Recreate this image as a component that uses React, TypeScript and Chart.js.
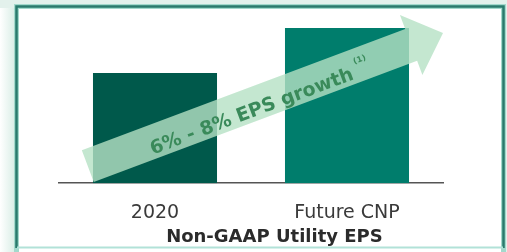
import React, { useEffect, useRef } from "react";
import { Chart, registerables } from "chart.js";

Chart.register(...registerables);

// ---- data ----
const categories = ["2020", "Future CNP"];
const epsValues = [1.1, 1.55];
const barColors = ["#00594b", "#007d6c"];
const chartTitle = "Non-GAAP Utility EPS";
const arrowLabel = "6% - 8% EPS growth";
const arrowNote = "(1)";
const yMax = 1.6;
// arrow runs from (category index, value) to (category index, value)
const arrowFrom = [-0.35, 0.17];
const arrowTo = [1.5, 1.5];

export default function App() {
  const ref = useRef<HTMLCanvasElement>(null);

  useEffect(() => {
    const framePlugin = {
      id: "frame",
      beforeDraw(chart: any) {
        const { ctx, width, height } = chart;
        ctx.save();
        ctx.fillStyle = "#e3f1ec";
        ctx.fillRect(0, 0, width, height);
        const g = ctx.createLinearGradient(0, 0, 16, 0);
        g.addColorStop(0, "#ffffff");
        g.addColorStop(1, "#d6ece4");
        ctx.fillStyle = g;
        ctx.fillRect(0, 8, 16, height - 8);
        ctx.fillStyle = "#ffffff";
        ctx.fillRect(17, 7, width - 21, height - 7);
        // light band on top, left, right
        ctx.strokeStyle = "#a3d9cc";
        ctx.lineWidth = 5;
        ctx.beginPath();
        ctx.moveTo(16.5, height);
        ctx.lineTo(16.5, 6.5);
        ctx.lineTo(width - 3.5, 6.5);
        ctx.lineTo(width - 3.5, height);
        ctx.stroke();
        // dark core lines (top, left, right)
        ctx.strokeStyle = "#2a7a6c";
        ctx.lineWidth = 2.5;
        ctx.beginPath();
        ctx.moveTo(16.5, height - 4);
        ctx.lineTo(16.5, 6.5);
        ctx.lineTo(width - 3.5, 6.5);
        ctx.lineTo(width - 3.5, height - 4);
        ctx.stroke();
        // thin light bottom line
        ctx.strokeStyle = "#b2e2d8";
        ctx.lineWidth = 2;
        ctx.beginPath();
        ctx.moveTo(17, height - 4.5);
        ctx.lineTo(width - 4, height - 4.5);
        ctx.stroke();
        ctx.restore();
      },
    };

    const arrowPlugin = {
      id: "growthArrow",
      afterDatasetsDraw(chart: any) {
        const { ctx } = chart;
        const xs = chart.scales.x;
        const ys = chart.scales.y;
        const x0 = xs.getPixelForValue(arrowFrom[0]);
        const y0 = ys.getPixelForValue(arrowFrom[1]);
        const x1 = xs.getPixelForValue(arrowTo[0]);
        const y1 = ys.getPixelForValue(arrowTo[1]);
        const L = Math.hypot(x1 - x0, y1 - y0);
        const ang = Math.atan2(y1 - y0, x1 - x0);
        const hw = 17;
        const HW = 32;
        const hl = 34;
        const path = () => {
          ctx.beginPath();
          ctx.moveTo(0, -hw);
          ctx.lineTo(L - hl, -hw);
          ctx.lineTo(L - hl, -HW);
          ctx.lineTo(L, 0);
          ctx.lineTo(L - hl, HW);
          ctx.lineTo(L - hl, hw);
          ctx.lineTo(0, hw);
          ctx.closePath();
        };
        ctx.save();
        ctx.translate(x0, y0);
        ctx.rotate(ang);
        // soft shadow round the head only
        ctx.save();
        ctx.beginPath();
        ctx.rect(L - hl - 2, -HW - 20, hl + 30, 2 * HW + 40);
        ctx.clip();
        ctx.shadowColor = "rgba(0,0,0,0.28)";
        ctx.shadowBlur = 7;
        ctx.shadowOffsetX = 2000 * Math.cos(-ang) + 1;
        ctx.shadowOffsetY = 2000 * Math.sin(-ang) + 2;
        ctx.translate(-2000, 0);
        ctx.fillStyle = "#000";
        ctx.beginPath();
        ctx.moveTo(L - hl, -HW);
        ctx.lineTo(L, 0);
        ctx.lineTo(L - hl, HW);
        ctx.closePath();
        ctx.fill();
        ctx.restore();

        path();
        ctx.fillStyle = "rgba(181,225,196,0.8)";
        ctx.fill();

        ctx.fillStyle = "#3a8a5a";
        ctx.font = "bold 19px 'DejaVu Sans'";
        ctx.textAlign = "center";
        ctx.textBaseline = "alphabetic";
        const cx = L * 0.455;
        ctx.fillText(arrowLabel, cx, 12);
        const w = ctx.measureText(arrowLabel).width;
        ctx.font = "bold 8px 'DejaVu Sans'";
        ctx.textAlign = "left";
        ctx.fillText(arrowNote, cx + w / 2 + 5, -2);
        ctx.restore();
      },
    };

    const titlePlugin = {
      id: "bottomTitle",
      afterDraw(chart: any) {
        const { ctx, chartArea } = chart;
        ctx.save();
        ctx.font = "bold 18px 'DejaVu Sans'";
        ctx.fillStyle = "#2b2b2b";
        ctx.textAlign = "center";
        ctx.textBaseline = "middle";
        const x = chartArea.left + (chartArea.right - chartArea.left) * 0.561;
        ctx.fillText(chartTitle, x, chartArea.bottom + 54.5);
        ctx.restore();
      },
    };

    const chart = new Chart(ref.current as HTMLCanvasElement, {
      type: "bar",
      data: {
        labels: categories,
        datasets: [
          {
            data: epsValues,
            backgroundColor: barColors,
            borderWidth: 0,
            barPercentage: 0.646,
            categoryPercentage: 1,
          },
        ],
      },
      options: {
        responsive: false,
        animation: false,
        layout: { padding: { left: 59, right: 64, top: 23, bottom: 10 } },
        plugins: {
          legend: { display: false },
          title: { display: false },
          tooltip: { enabled: false },
        },
        scales: {
          x: {
            grid: { display: false, drawTicks: false, tickLength: 0 },
            border: { display: true, color: "#555555", width: 1.5 },
            ticks: {
              color: "#3a3a3a",
              font: { family: "'DejaVu Sans'", size: 19 },
              padding: 18,
              maxRotation: 0,
              autoSkip: false,
            },
          },
          y: {
            display: false,
            min: 0,
            max: yMax,
          },
        },
      },
      plugins: [framePlugin, arrowPlugin, titlePlugin],
    });
    return () => chart.destroy();
  }, []);

  return (
    <div style={{ position: "fixed", left: 0, top: 0, width: 507, height: 252 }}>
      <canvas ref={ref} width={507} height={252} style={{ display: "block" }} />
    </div>
  );
}
